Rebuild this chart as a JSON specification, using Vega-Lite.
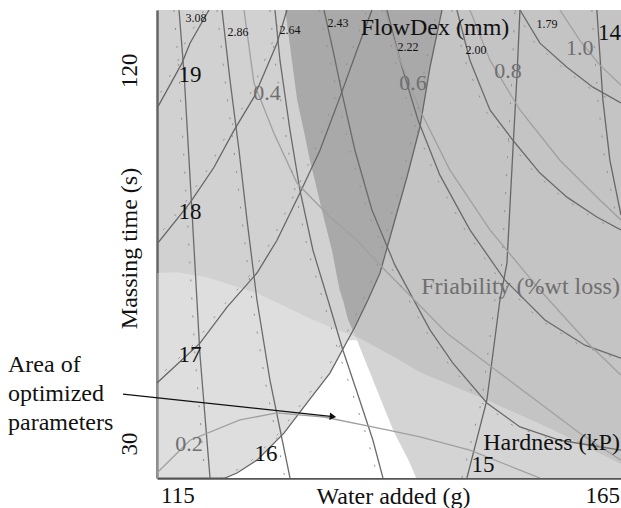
{
  "$schema": "https://vega.github.io/schema/vega-lite/v6.json",
  "width": 464,
  "height": 468,
  "autosize": {"type": "none"},
  "padding": {"left": 157, "top": 10, "right": 0, "bottom": 30},
  "background": "white",
  "config": {
    "font": "Liberation Serif, Times New Roman, serif",
    "view": {"fill": "#d1d1d1", "stroke": null}
  },
  "datasets": {
    "rightX": [
      {"t": 134.5, "w": 127.7}, {"t": 123.6, "w": 128.4}, {"t": 112.8, "w": 129.1}, {"t": 98.3, "w": 130.6},
      {"t": 86.3, "w": 132.0}, {"t": 76.6, "w": 133.2}, {"t": 67.0, "w": 134.1}, {"t": 59.8, "w": 135.1},
      {"t": 56.2, "w": 135.9}, {"t": 42.9, "w": 138.5}, {"t": 33.3, "w": 140.4}, {"t": 25.3, "w": 142.4}, {"t": 21.7, "w": 143.1}
    ],
    "dark": [
      {"t": 134.5, "w1": 127.7, "w2": 146.1}, {"t": 123.6, "w1": 128.4, "w2": 145.0}, {"t": 112.8, "w1": 129.1, "w2": 144.1},
      {"t": 106.3, "w1": 129.8, "w2": 143.5}, {"t": 98.3, "w1": 130.6, "w2": 142.5}, {"t": 94.2, "w1": 131.1, "w2": 142.0},
      {"t": 86.3, "w1": 132.0, "w2": 140.9}, {"t": 82.2, "w1": 132.5, "w2": 140.4}, {"t": 76.6, "w1": 133.2, "w2": 139.6},
      {"t": 71.1, "w1": 133.7, "w2": 138.8}, {"t": 67.0, "w1": 134.1, "w2": 137.9}, {"t": 64.6, "w1": 134.5, "w2": 137.4},
      {"t": 59.8, "w1": 135.1, "w2": 136.3}, {"t": 57.1, "w1": 135.7, "w2": 135.7}
    ],
    "lower": [
      {"w": 112.6, "t": 71.1}, {"w": 114.95, "t": 71.3}, {"w": 118.48, "t": 70.1}, {"w": 124.36, "t": 66.3},
      {"w": 130.25, "t": 60.5}, {"w": 133.31, "t": 57.8}, {"w": 136.48, "t": 55.4}, {"w": 141.19, "t": 50.1},
      {"w": 143.54, "t": 47.2}, {"w": 151.42, "t": 40.5}, {"w": 159.19, "t": 33.3}, {"w": 167.2, "t": 25.1}
    ],
    "white": [
      {"t": 54.9, "w1": 135.05, "w2": 136.13}, {"t": 53.7, "w1": 134.72, "w2": 136.36}, {"t": 47.0, "w1": 132.95, "w2": 137.68},
      {"t": 39.8, "w1": 130.25, "w2": 139.09}, {"t": 32.5, "w1": 127.54, "w2": 140.54}, {"t": 26.0, "w1": 124.36, "w2": 142.19},
      {"t": 22.9, "w1": 122.01, "w2": 142.84}, {"t": 21.7, "w1": 120.6, "w2": 143.1}
    ],
    "contours": [
      {"c": "F3.08", "f": "F", "k": 0, "w": 115.19, "t": 134.5}, {"c": "F3.08", "f": "F", "k": 1, "w": 115.78, "t": 119.3},
      {"c": "F3.08", "f": "F", "k": 2, "w": 116.72, "t": 85.8}, {"c": "F3.08", "f": "F", "k": 3, "w": 117.66, "t": 51.3},
      {"c": "F3.08", "f": "F", "k": 4, "w": 118.84, "t": 21.7},
      {"c": "F2.86", "f": "F", "k": 0, "w": 120.25, "t": 134.5}, {"c": "F2.86", "f": "F", "k": 1, "w": 121.19, "t": 117.6},
      {"c": "F2.86", "f": "F", "k": 2, "w": 122.25, "t": 100.7}, {"c": "F2.86", "f": "F", "k": 3, "w": 123.19, "t": 83.9},
      {"c": "F2.86", "f": "F", "k": 4, "w": 124.36, "t": 64.6}, {"c": "F2.86", "f": "F", "k": 5, "w": 125.89, "t": 45.3},
      {"c": "F2.86", "f": "F", "k": 6, "w": 128.25, "t": 21.7},
      {"c": "F2.64", "f": "F", "k": 0, "w": 126.48, "t": 134.5}, {"c": "F2.64", "f": "F", "k": 1, "w": 127.07, "t": 122.4},
      {"c": "F2.64", "f": "F", "k": 2, "w": 128.25, "t": 105.5}, {"c": "F2.64", "f": "F", "k": 3, "w": 129.42, "t": 91.1},
      {"c": "F2.64", "f": "F", "k": 4, "w": 130.95, "t": 76.6}, {"c": "F2.64", "f": "F", "k": 5, "w": 132.72, "t": 64.6},
      {"c": "F2.64", "f": "F", "k": 6, "w": 134.48, "t": 52.5}, {"c": "F2.64", "f": "F", "k": 7, "w": 136.25, "t": 41.7},
      {"c": "F2.64", "f": "F", "k": 8, "w": 138.01, "t": 30.8}, {"c": "F2.64", "f": "F", "k": 9, "w": 139.19, "t": 21.7},
      {"c": "F2.43", "f": "F", "k": 0, "w": 132.25, "t": 134.5}, {"c": "F2.43", "f": "F", "k": 1, "w": 133.31, "t": 124.8},
      {"c": "F2.43", "f": "F", "k": 2, "w": 134.36, "t": 114.5}, {"c": "F2.43", "f": "F", "k": 3, "w": 135.89, "t": 100.7},
      {"c": "F2.43", "f": "F", "k": 4, "w": 137.89, "t": 86.3}, {"c": "F2.43", "f": "F", "k": 5, "w": 140.6, "t": 73.0},
      {"c": "F2.43", "f": "F", "k": 6, "w": 144.72, "t": 57.4}, {"c": "F2.43", "f": "F", "k": 7, "w": 147.42, "t": 49.4},
      {"c": "F2.43", "f": "F", "k": 8, "w": 151.42, "t": 39.8}, {"c": "F2.43", "f": "F", "k": 9, "w": 155.31, "t": 34.0},
      {"c": "F2.43", "f": "F", "k": 10, "w": 160.01, "t": 30.8}, {"c": "F2.43", "f": "F", "k": 11, "w": 167.19, "t": 28.4},
      {"c": "F2.22", "f": "F", "k": 0, "w": 139.66, "t": 134.5}, {"c": "F2.22", "f": "F", "k": 1, "w": 141.19, "t": 122.4},
      {"c": "F2.22", "f": "F", "k": 2, "w": 143.31, "t": 108.0}, {"c": "F2.22", "f": "F", "k": 3, "w": 145.89, "t": 94.7},
      {"c": "F2.22", "f": "F", "k": 4, "w": 149.42, "t": 81.5}, {"c": "F2.22", "f": "F", "k": 5, "w": 153.54, "t": 69.4},
      {"c": "F2.22", "f": "F", "k": 6, "w": 158.25, "t": 59.8}, {"c": "F2.22", "f": "F", "k": 7, "w": 162.95, "t": 53.7},
      {"c": "F2.22", "f": "F", "k": 8, "w": 167.19, "t": 50.6},
      {"c": "F2.00", "f": "F", "k": 0, "w": 147.89, "t": 134.5}, {"c": "F2.00", "f": "F", "k": 1, "w": 149.42, "t": 122.4},
      {"c": "F2.00", "f": "F", "k": 2, "w": 151.78, "t": 110.4}, {"c": "F2.00", "f": "F", "k": 3, "w": 154.48, "t": 103.1},
      {"c": "F2.00", "f": "F", "k": 4, "w": 157.66, "t": 95.2}, {"c": "F2.00", "f": "F", "k": 5, "w": 160.84, "t": 89.4},
      {"c": "F2.00", "f": "F", "k": 6, "w": 164.36, "t": 84.6}, {"c": "F2.00", "f": "F", "k": 7, "w": 167.19, "t": 81.5},
      {"c": "F1.79", "f": "F", "k": 0, "w": 155.31, "t": 134.5}, {"c": "F1.79", "f": "F", "k": 1, "w": 157.66, "t": 126.5},
      {"c": "F1.79", "f": "F", "k": 2, "w": 160.84, "t": 120.7}, {"c": "F1.79", "f": "F", "k": 3, "w": 163.89, "t": 115.9},
      {"c": "F1.79", "f": "F", "k": 4, "w": 167.19, "t": 112.1},
      {"c": "H19", "f": "H", "k": 0, "w": 112.6, "t": 110.8}, {"c": "H19", "f": "H", "k": 1, "w": 115.54, "t": 121.7},
      {"c": "H19", "f": "H", "k": 2, "w": 116.48, "t": 126.5}, {"c": "H19", "f": "H", "k": 3, "w": 118.72, "t": 134.5},
      {"c": "H18", "f": "H", "k": 0, "w": 112.6, "t": 78.1}, {"c": "H18", "f": "H", "k": 1, "w": 116.48, "t": 88.0},
      {"c": "H18", "f": "H", "k": 2, "w": 119.31, "t": 96.6}, {"c": "H18", "f": "H", "k": 3, "w": 121.66, "t": 105.5},
      {"c": "H18", "f": "H", "k": 4, "w": 124.01, "t": 113.5}, {"c": "H18", "f": "H", "k": 5, "w": 126.72, "t": 126.5},
      {"c": "H18", "f": "H", "k": 6, "w": 127.89, "t": 134.5},
      {"c": "H17", "f": "H", "k": 0, "w": 112.6, "t": 44.6}, {"c": "H17", "f": "H", "k": 1, "w": 117.66, "t": 54.2},
      {"c": "H17", "f": "H", "k": 2, "w": 120.84, "t": 62.9}, {"c": "H17", "f": "H", "k": 3, "w": 124.36, "t": 71.1},
      {"c": "H17", "f": "H", "k": 4, "w": 126.72, "t": 79.0}, {"c": "H17", "f": "H", "k": 5, "w": 129.42, "t": 90.4},
      {"c": "H17", "f": "H", "k": 6, "w": 131.78, "t": 100.7}, {"c": "H17", "f": "H", "k": 7, "w": 134.13, "t": 113.5},
      {"c": "H17", "f": "H", "k": 8, "w": 136.13, "t": 124.8}, {"c": "H17", "f": "H", "k": 9, "w": 137.89, "t": 134.5},
      {"c": "H16", "f": "H", "k": 0, "w": 120.6, "t": 21.7}, {"c": "H16", "f": "H", "k": 1, "w": 122.01, "t": 22.9},
      {"c": "H16", "f": "H", "k": 2, "w": 124.36, "t": 26.0}, {"c": "H16", "f": "H", "k": 3, "w": 127.54, "t": 32.5},
      {"c": "H16", "f": "H", "k": 4, "w": 130.25, "t": 39.8}, {"c": "H16", "f": "H", "k": 5, "w": 132.95, "t": 47.0},
      {"c": "H16", "f": "H", "k": 6, "w": 134.72, "t": 53.7}, {"c": "H16", "f": "H", "k": 7, "w": 135.89, "t": 58.1},
      {"c": "H16", "f": "H", "k": 8, "w": 137.42, "t": 64.6}, {"c": "H16", "f": "H", "k": 9, "w": 138.84, "t": 71.1},
      {"c": "H16", "f": "H", "k": 10, "w": 140.36, "t": 82.2}, {"c": "H16", "f": "H", "k": 11, "w": 142.01, "t": 94.2},
      {"c": "H16", "f": "H", "k": 12, "w": 143.54, "t": 106.3}, {"c": "H16", "f": "H", "k": 13, "w": 144.72, "t": 120.7},
      {"c": "H16", "f": "H", "k": 14, "w": 146.13, "t": 134.5},
      {"c": "H15", "f": "H", "k": 0, "w": 149.07, "t": 21.7}, {"c": "H15", "f": "H", "k": 1, "w": 151.42, "t": 40.5},
      {"c": "H15", "f": "H", "k": 2, "w": 152.95, "t": 64.6}, {"c": "H15", "f": "H", "k": 3, "w": 153.78, "t": 73.5},
      {"c": "H15", "f": "H", "k": 4, "w": 154.48, "t": 100.7}, {"c": "H15", "f": "H", "k": 5, "w": 154.95, "t": 118.3},
      {"c": "H15", "f": "H", "k": 6, "w": 155.31, "t": 134.5},
      {"c": "H14", "f": "H", "k": 0, "w": 164.36, "t": 134.5}, {"c": "H14", "f": "H", "k": 1, "w": 165.07, "t": 112.8},
      {"c": "H14", "f": "H", "k": 2, "w": 165.89, "t": 98.3}, {"c": "H14", "f": "H", "k": 3, "w": 167.19, "t": 85.1},
      {"c": "R0.2", "f": "R", "k": 0, "w": 112.6, "t": 22.9}, {"c": "R0.2", "f": "R", "k": 1, "w": 116.48, "t": 30.8},
      {"c": "R0.2", "f": "R", "k": 2, "w": 122.36, "t": 35.7}, {"c": "R0.2", "f": "R", "k": 3, "w": 126.72, "t": 37.4},
      {"c": "R0.2", "f": "R", "k": 4, "w": 132.25, "t": 36.4}, {"c": "R0.2", "f": "R", "k": 5, "w": 139.66, "t": 33.3},
      {"c": "R0.2", "f": "R", "k": 6, "w": 143.54, "t": 31.6}, {"c": "R0.2", "f": "R", "k": 7, "w": 149.42, "t": 28.4},
      {"c": "R0.2", "f": "R", "k": 8, "w": 155.31, "t": 23.6}, {"c": "R0.2", "f": "R", "k": 9, "w": 157.66, "t": 21.7},
      {"c": "R0.4", "f": "R", "k": 0, "w": 122.84, "t": 134.5}, {"c": "R0.4", "f": "R", "k": 1, "w": 124.01, "t": 116.9},
      {"c": "R0.4", "f": "R", "k": 2, "w": 126.36, "t": 104.8}, {"c": "R0.4", "f": "R", "k": 3, "w": 129.07, "t": 92.8},
      {"c": "R0.4", "f": "R", "k": 4, "w": 132.95, "t": 84.6}, {"c": "R0.4", "f": "R", "k": 5, "w": 136.13, "t": 79.0},
      {"c": "R0.4", "f": "R", "k": 6, "w": 139.19, "t": 72.3}, {"c": "R0.4", "f": "R", "k": 7, "w": 146.72, "t": 56.6},
      {"c": "R0.4", "f": "R", "k": 8, "w": 154.48, "t": 44.6}, {"c": "R0.4", "f": "R", "k": 9, "w": 162.36, "t": 32.5},
      {"c": "R0.4", "f": "R", "k": 10, "w": 167.19, "t": 26.0},
      {"c": "R0.6", "f": "R", "k": 0, "w": 139.42, "t": 134.5}, {"c": "R0.6", "f": "R", "k": 1, "w": 141.19, "t": 122.4},
      {"c": "R0.6", "f": "R", "k": 2, "w": 143.54, "t": 110.4}, {"c": "R0.6", "f": "R", "k": 3, "w": 147.07, "t": 95.9},
      {"c": "R0.6", "f": "R", "k": 4, "w": 151.78, "t": 81.5}, {"c": "R0.6", "f": "R", "k": 5, "w": 157.66, "t": 67.0},
      {"c": "R0.6", "f": "R", "k": 6, "w": 163.54, "t": 53.7}, {"c": "R0.6", "f": "R", "k": 7, "w": 167.19, "t": 46.5},
      {"c": "R0.8", "f": "R", "k": 0, "w": 149.42, "t": 134.5}, {"c": "R0.8", "f": "R", "k": 1, "w": 151.78, "t": 122.4},
      {"c": "R0.8", "f": "R", "k": 2, "w": 155.31, "t": 110.4}, {"c": "R0.8", "f": "R", "k": 3, "w": 160.01, "t": 98.3},
      {"c": "R0.8", "f": "R", "k": 4, "w": 164.72, "t": 88.7}, {"c": "R0.8", "f": "R", "k": 5, "w": 167.19, "t": 83.9},
      {"c": "R1.0", "f": "R", "k": 0, "w": 160.01, "t": 134.5}, {"c": "R1.0", "f": "R", "k": 1, "w": 162.36, "t": 127.2},
      {"c": "R1.0", "f": "R", "k": 2, "w": 164.72, "t": 121.2}, {"c": "R1.0", "f": "R", "k": 3, "w": 167.19, "t": 116.4}
    ],
    "labels": [
      {"s": "3.08", "g": "fd", "w": 117.19, "t": 132.5}, {"s": "2.86", "g": "fd", "w": 122.13, "t": 129.2},
      {"s": "2.64", "g": "fd", "w": 128.25, "t": 129.6}, {"s": "2.43", "g": "fd", "w": 133.89, "t": 131.3},
      {"s": "2.22", "g": "fd", "w": 142.13, "t": 125.5}, {"s": "2.00", "g": "fd", "w": 150.13, "t": 124.8},
      {"s": "1.79", "g": "fd", "w": 158.48, "t": 131.1},
      {"s": "19", "g": "hd", "w": 116.48, "t": 118.8}, {"s": "18", "g": "hd", "w": 116.48, "t": 85.8},
      {"s": "17", "g": "hd", "w": 116.48, "t": 51.3}, {"s": "16", "g": "hd", "w": 125.42, "t": 27.5},
      {"s": "15", "g": "hd", "w": 150.95, "t": 24.8}, {"s": "14", "g": "hd", "w": 165.85, "t": 128.9},
      {"s": "0.4", "g": "fr", "w": 125.54, "t": 114.5}, {"s": "0.6", "g": "fr", "w": 142.72, "t": 116.9},
      {"s": "0.8", "g": "fr", "w": 153.89, "t": 119.8}, {"s": "1.0", "g": "fr", "w": 162.36, "t": 125.3},
      {"s": "0.2", "g": "fr", "w": 116.36, "t": 29.9},
      {"s": "FlowDex (mm)", "g": "tb", "w": 145.31, "t": 130.1},
      {"s": "Hardness (kP)", "g": "rb", "w": 167.07, "t": 30.1},
      {"s": "Friability (%wt loss)", "g": "rg", "w": 167.07, "t": 67.7},
      {"s": "Area of\noptimized\nparameters", "g": "an", "w": 95.07, "t": 47.2}
    ],
    "arrow": [
      {"k": 0, "w": 108.6, "t": 41.9}, {"k": 1, "w": 133.3, "t": 36.5}
    ]
  },
  "layer": [
    {
      "data": {"name": "rightX"},
      "mark": {"type": "area", "orient": "horizontal", "color": "#c4c4c4", "clip": true},
      "encoding": {
        "y": {
          "field": "t", "type": "quantitative",
          "scale": {"domain": [21.7, 134.5], "nice": false, "zero": false},
          "title": "Massing time (s)",
          "axis": {"values": [30, 120], "ticks": false, "tickSize": 0, "grid": false, "domainColor": "#666666", "domainWidth": 2.5, "labelFont": "Liberation Serif, Times New Roman, serif", "labelFontSize": 23, "labelColor": "#111111", "labelAngle": 270, "labelAlign": "center", "labelBaseline": "middle", "labelPadding": 28, "titleFont": "Liberation Serif, Times New Roman, serif", "titleFontSize": 24, "titleFontWeight": "normal", "titleColor": "#111111", "titleX": -28, "titleY": 238, "titleAngle": 270, "titleBaseline": "middle", "titleAlign": "center"}
        },
        "x": {
          "field": "w", "type": "quantitative",
          "scale": {"domain": [112.6, 167.2], "nice": false, "zero": false},
          "title": "Water added (g)",
          "axis": {"values": [115, 165], "ticks": false, "tickSize": 0, "grid": false, "domainColor": "#555555", "domainWidth": 2.5, "labelFont": "Liberation Serif, Times New Roman, serif", "labelFontSize": 23, "labelColor": "#111111", "labelPadding": 6, "labelFlush": false, "titleFont": "Liberation Serif, Times New Roman, serif", "titleFontSize": 24, "titleFontWeight": "normal", "titleColor": "#111111", "titleX": 236, "titleY": 25, "titleBaseline": "alphabetic"}
        },
        "x2": {"datum": 167.2}
      }
    },
    {
      "data": {"name": "dark"},
      "mark": {"type": "area", "orient": "horizontal", "color": "#a9a9a9", "clip": true},
      "encoding": {
        "y": {"field": "t", "type": "quantitative"},
        "x": {"field": "w1", "type": "quantitative"},
        "x2": {"field": "w2"}
      }
    },
    {
      "data": {"name": "lower"},
      "mark": {"type": "area", "color": "#ffffff", "opacity": 0.28, "clip": true},
      "encoding": {
        "x": {"field": "w", "type": "quantitative"},
        "y": {"field": "t", "type": "quantitative"},
        "y2": {"datum": 21.7}
      }
    },
    {
      "data": {"name": "white"},
      "mark": {"type": "area", "orient": "horizontal", "color": "#ffffff", "clip": true},
      "encoding": {
        "y": {"field": "t", "type": "quantitative"},
        "x": {"field": "w1", "type": "quantitative"},
        "x2": {"field": "w2"}
      }
    },
    {
      "mark": {"type": "rule", "color": "#9a9a9a", "strokeWidth": 2},
      "encoding": {"x": {"datum": 138.0}}
    },
    {
      "mark": {"type": "rule", "color": "#9a9a9a", "strokeWidth": 2},
      "encoding": {"y": {"datum": 30.1}}
    },
    {
      "data": {"name": "contours"},
      "mark": {"type": "line", "strokeWidth": 1.3, "clip": true},
      "encoding": {
        "x": {"field": "w", "type": "quantitative"},
        "y": {"field": "t", "type": "quantitative"},
        "detail": {"field": "c"},
        "order": {"field": "k"},
        "color": {"field": "f", "type": "nominal", "scale": {"domain": ["F", "H", "R"], "range": ["#6b6b6b", "#676767", "#a0a0a0"]}, "legend": null}
      }
    },
    {
      "data": {"name": "contours"},
      "transform": [{"filter": "datum.f != 'R'"}],
      "mark": {"type": "line", "strokeWidth": 1, "strokeDash": [2, 16], "xOffset": -5, "color": "#8f8f8f", "clip": true},
      "encoding": {
        "x": {"field": "w", "type": "quantitative"},
        "y": {"field": "t", "type": "quantitative"},
        "detail": {"field": "c"},
        "order": {"field": "k"}
      }
    },
    {
      "data": {"name": "arrow"},
      "mark": {"type": "line", "color": "#111111", "strokeWidth": 1.2, "clip": false},
      "encoding": {
        "x": {"field": "w", "type": "quantitative"},
        "y": {"field": "t", "type": "quantitative"},
        "order": {"field": "k"}
      }
    },
    {
      "data": {"name": "arrow"},
      "transform": [{"filter": "datum.k == 1"}],
      "mark": {"type": "point", "shape": "triangle-right", "filled": true, "size": 55, "angle": 6, "color": "#111111", "opacity": 1},
      "encoding": {
        "x": {"field": "w", "type": "quantitative"},
        "y": {"field": "t", "type": "quantitative"}
      }
    },
    {
      "data": {"name": "labels"},
      "transform": [{"filter": "datum.g == 'fd'"}],
      "mark": {"type": "text", "font": "Liberation Serif, Times New Roman, serif", "fontSize": 12, "color": "#111111", "align": "center", "baseline": "middle"},
      "encoding": {"x": {"field": "w", "type": "quantitative"}, "y": {"field": "t", "type": "quantitative"}, "text": {"field": "s"}}
    },
    {
      "data": {"name": "labels"},
      "transform": [{"filter": "datum.g == 'hd'"}],
      "mark": {"type": "text", "font": "Liberation Serif, Times New Roman, serif", "fontSize": 23, "color": "#111111", "align": "center", "baseline": "middle"},
      "encoding": {"x": {"field": "w", "type": "quantitative"}, "y": {"field": "t", "type": "quantitative"}, "text": {"field": "s"}}
    },
    {
      "data": {"name": "labels"},
      "transform": [{"filter": "datum.g == 'fr'"}],
      "mark": {"type": "text", "font": "Liberation Serif, Times New Roman, serif", "fontSize": 22, "color": "#6f6f6f", "align": "center", "baseline": "middle"},
      "encoding": {"x": {"field": "w", "type": "quantitative"}, "y": {"field": "t", "type": "quantitative"}, "text": {"field": "s"}}
    },
    {
      "data": {"name": "labels"},
      "transform": [{"filter": "datum.g == 'tb'"}],
      "mark": {"type": "text", "font": "Liberation Serif, Times New Roman, serif", "fontSize": 24, "color": "#111111", "align": "center", "baseline": "middle"},
      "encoding": {"x": {"field": "w", "type": "quantitative"}, "y": {"field": "t", "type": "quantitative"}, "text": {"field": "s"}}
    },
    {
      "data": {"name": "labels"},
      "transform": [{"filter": "datum.g == 'rb'"}],
      "mark": {"type": "text", "font": "Liberation Serif, Times New Roman, serif", "fontSize": 24, "color": "#111111", "align": "right", "baseline": "middle"},
      "encoding": {"x": {"field": "w", "type": "quantitative"}, "y": {"field": "t", "type": "quantitative"}, "text": {"field": "s"}}
    },
    {
      "data": {"name": "labels"},
      "transform": [{"filter": "datum.g == 'rg'"}],
      "mark": {"type": "text", "font": "Liberation Serif, Times New Roman, serif", "fontSize": 24, "color": "#6f6f6f", "align": "right", "baseline": "middle"},
      "encoding": {"x": {"field": "w", "type": "quantitative"}, "y": {"field": "t", "type": "quantitative"}, "text": {"field": "s"}}
    },
    {
      "data": {"name": "labels"},
      "transform": [{"filter": "datum.g == 'an'"}],
      "mark": {"type": "text", "font": "Liberation Serif, Times New Roman, serif", "fontSize": 24, "color": "#111111", "align": "left", "baseline": "alphabetic", "lineBreak": "\n", "lineHeight": 29, "clip": false},
      "encoding": {"x": {"field": "w", "type": "quantitative"}, "y": {"field": "t", "type": "quantitative"}, "text": {"field": "s"}}
    }
  ]
}
